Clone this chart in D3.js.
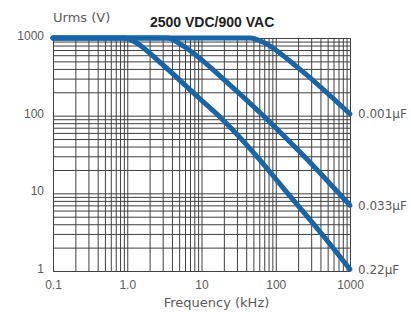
<!DOCTYPE html>
<html>
<head>
<meta charset="utf-8">
<script src="https://cdn.jsdelivr.net/npm/d3@7"></script>
<style>
  body { margin: 0; background: #fff; }
  svg { display: block; font-family: "DejaVu Sans", sans-serif; }
  .tick text { fill: #5a5a5a; font-size: 12px; }
  .grid line { stroke: #3f3f3f; stroke-width: 1; }
  .grid .domain { display: none; }
  .curve { fill: none; stroke: #1764a8; stroke-width: 5; stroke-linejoin: round; stroke-linecap: round; }
</style>
</head>
<body>
<div id="chart"></div>
<script>
const svgWidth = 411;
const svgHeight = 312;

const margin = { top: 38, right: 61, bottom: 41, left: 53 };
const width = svgWidth - margin.left - margin.right;
const height = svgHeight - margin.top - margin.bottom;

// tick labels as printed on the chart
const xTickValues = [0.1, 1, 10, 100, 1000];
const xTickLabels = ["0.1", "1.0", "10", "100", "1000"];
const yTickValues = [1, 10, 100, 1000];
const yTickLabels = ["1", "10", "100", "1000"];

// curve names (right-hand labels)
const capLabels = ["0.001\u00b5F", "0.033\u00b5F", "0.22\u00b5F"];

// frequency (kHz) and Urms (V)
const freq001 = [0.1, 45, 67, 193, 1000];
const volt001 = [1000, 1000, 890, 425, 105];
const freq033 = [0.1, 3.5, 5.1, 24, 212, 1000];
const volt033 = [1000, 1000, 840, 250, 34, 7];
const freq22 = [0.1, 0.93, 1.27, 2.8, 9.5, 19.5, 61, 133, 394, 1000];
const volt22 = [1000, 1000, 890, 480, 165, 88, 27, 11, 3.2, 1.05];

const series = [
  { name: capLabels[0], f: freq001, u: volt001 },
  { name: capLabels[1], f: freq033, u: volt033 },
  { name: capLabels[2], f: freq22, u: volt22 }
];

var svg = d3.select("#chart")
  .append("svg")
  .attr("width", svgWidth)
  .attr("height", svgHeight);

var chartGroup = svg.append("g")
  .attr("transform", `translate(${margin.left}, ${margin.top})`);

var xScale = d3.scaleLog().domain([0.1, 1000]).range([0, width]);
var yScale = d3.scaleLog().domain([1, 1000]).range([height, 0]);

// grid: every 1..9 step of each decade
chartGroup.append("g")
  .attr("class", "grid")
  .attr("transform", `translate(0, ${height})`)
  .call(d3.axisBottom(xScale).tickValues(xScale.ticks()).tickSize(-height).tickFormat(""));

chartGroup.append("g")
  .attr("class", "grid")
  .call(d3.axisLeft(yScale).tickValues(yScale.ticks()).tickSize(-width).tickFormat(""));

// axes with labels only
var xAxis = chartGroup.append("g")
  .attr("transform", `translate(0, ${height})`)
  .call(d3.axisBottom(xScale).tickValues(xTickValues).tickSize(0).tickPadding(9)
    .tickFormat((d, i) => xTickLabels[i]));
xAxis.select(".domain").remove();

var yAxis = chartGroup.append("g")
  .call(d3.axisLeft(yScale).tickValues(yTickValues).tickSize(0).tickPadding(9)
    .tickFormat((d, i) => yTickLabels[i]));
yAxis.select(".domain").remove();
yAxis.selectAll("text").attr("dy", "0.12em");

// curves
var line = d3.line()
  .x(d => xScale(d[0]))
  .y(d => yScale(d[1]))
  .curve(d3.curveMonotoneX);

series.forEach(function(s) {
  var pts = s.f.map((f, i) => [f, s.u[i]]);
  chartGroup.append("path")
    .attr("class", "curve")
    .attr("d", line(pts));

  var last = pts[pts.length - 1];
  chartGroup.append("text")
    .attr("x", xScale(last[0]) + 8)
    .attr("y", yScale(last[1]))
    .attr("dy", "0.35em")
    .attr("fill", "#5a5a5a")
    .style("font-size", "12px")
    .text(s.name);
});

// titles
svg.append("text")
  .attr("x", 53)
  .attr("y", 22)
  .attr("fill", "#5a5a5a")
  .style("font-size", "13px")
  .text("Urms (V)");

svg.append("text")
  .attr("x", 150)
  .attr("y", 27)
  .attr("fill", "#222")
  .style("font-family", "Liberation Sans, Arial, sans-serif")
  .style("font-weight", "bold")
  .style("font-size", "14px")
  .text("2500 VDC/900 VAC");

svg.append("text")
  .attr("x", margin.left + width / 2 + 15)
  .attr("y", 307)
  .attr("text-anchor", "middle")
  .attr("fill", "#5a5a5a")
  .style("font-size", "13px")
  .text("Frequency (kHz)");
</script>
</body>
</html>
